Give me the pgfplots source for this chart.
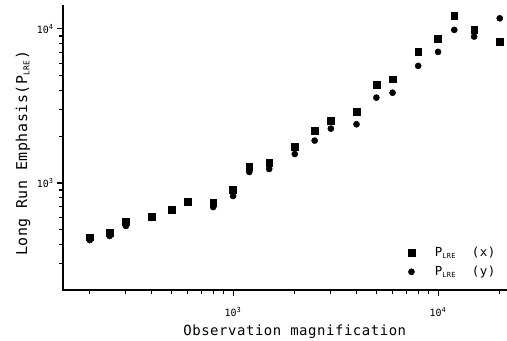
\documentclass[border=0pt]{standalone}
\usepackage{fontspec}
\setmainfont{DejaVu Sans Mono}
\newfontfamily\labfont[LetterSpace=4]{DejaVu Sans Mono}
\usepackage{pgfplots}
\pgfplotsset{compat=1.18}
\begin{document}
\begin{tikzpicture}
\begin{axis}[
  xmode=log, ymode=log,
  scale only axis, width=444bp, height=285bp,
  xmin=148, xmax=21700, ymin=202, ymax=14300,
  clip=false,
  axis line style={draw=none},
  tick align=outside,
  xtick pos=left, ytick pos=left,
  major tick length=6bp,
  tick style={black, line width=1.1pt},
  xtick={1000,10000}, xticklabels={10\textsuperscript{3},10\textsuperscript{4}},
  ytick={1000,10000}, yticklabels={10\textsuperscript{3},10\textsuperscript{4}},
  extra y ticks={300,400,500,600,700,800,900,2000,3000,4000,5000,6000,7000,8000,9000},
  extra y tick labels={},
  extra y tick style={major tick length=4.5bp},
  ticklabel style={font=\fontsize{10}{12}\selectfont},
  xticklabel style={yshift=-8bp},
  xlabel={Observation magnification},
  ylabel={Long Run Emphasis(P\textsubscript{\fontsize{8}{9}\selectfont LRE})},
  label style={font=\labfont\fontsize{14}{16}\selectfont},
  xlabel style={at={(axis description cs:0.522,-0.147)}, anchor=center},
  ylabel style={at={(axis description cs:-0.09,0.479)}, anchor=center, font=\labfont\fontsize{15}{17}\selectfont},
  legend style={draw=none, fill=none, at={(axis description cs:0.77,0.03)}, anchor=south west,
    font=\labfont\fontsize{12.5}{14}\selectfont, row sep=4bp,
    /tikz/every odd column/.append style={column sep=18bp}},
  legend cell align=left,
]
\draw[line width=1.3pt, black] (rel axis cs:0,1) -- (rel axis cs:0,0) -- (rel axis cs:1,0);
\pgfplotsinvokeforeach{200,300,400,500,600,700,800,900,2000,3000,4000,5000,6000,7000,8000,9000,20000}{
  \draw[line width=1.1pt, black] (axis cs:#1,202) -- ([yshift=-4.5bp]axis cs:#1,202);
}
\pgfplotsinvokeforeach{1000,10000}{
  \draw[line width=1.1pt, black] (axis cs:#1,202) -- ([yshift=-6bp]axis cs:#1,202);
}
\addplot[only marks, mark=square*, mark size=3.4, black] coordinates {
(200,445)(250,475)(300,558)(400,601)(500,670)(600,755)(800,741)(1000,901)(1200,1270)(1500,1348)(2000,1713)(2500,2187)(3000,2541)(4000,2891)(5000,4325)(6000,4711)(8000,7127)(10000,8608)(12000,12130)(15000,9857)(20000,8279)
};
\addlegendentry{P\textsubscript{\fontsize{7}{8}\selectfont LRE}\ \ (x)}
\addplot[only marks, mark=*, mark size=3.1, black] coordinates {
(200,426)(250,453)(300,526)(400,593)(500,660)(600,745)(800,698)(1000,823)(1200,1179)(1500,1233)(2000,1542)(2500,1884)(3000,2254)(4000,2405)(5000,3580)(6000,3855)(8000,5754)(10000,7098)(12000,9857)(15000,8918)(20000,11720)
};
\addlegendentry{P\textsubscript{\fontsize{7}{8}\selectfont LRE}\ \ (y)}
\end{axis}
\pgfresetboundingbox
\path ([xshift=-63bp,yshift=-51bp]current axis.south west) rectangle ([yshift=5bp]current axis.north east);
\end{tikzpicture}
\end{document}
